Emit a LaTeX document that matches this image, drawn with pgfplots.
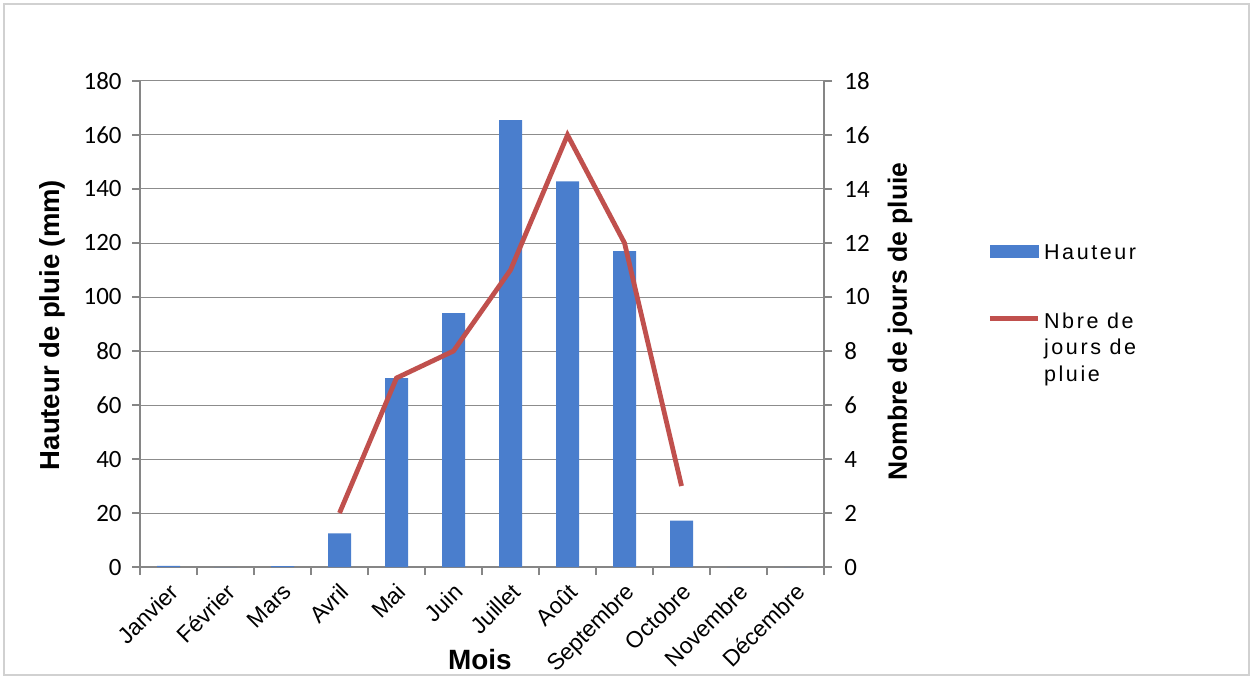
\documentclass[border=0pt]{standalone}
\usepackage{fontspec}
\setmainfont{Liberation Sans}
\newfontfamily\calibri{Carlito}
\usepackage{pgfplots}
\pgfplotsset{compat=1.18}
\definecolor{barblue}{RGB}{74,126,205}
\definecolor{linered}{RGB}{192,80,77}
\definecolor{axgray}{RGB}{134,134,134}
\definecolor{gridgray}{RGB}{140,140,140}

\pgfplotstableread{
x h
0 0.4
1 0
2 0.3
3 12.5
4 70
5 94
6 165.5
7 142.8
8 117
9 17.2
10 0
11 0
}\hauteur

\pgfplotstableread{
x n
3 2
4 7
5 8
6 11
7 16
8 12
9 3
}\jours

\begin{document}
\begin{tikzpicture}[x=1bp,y=1bp]
\useasboundingbox (0,0) rectangle (626.5,339.5);
\draw[black!18, line width=0.8bp] (2,2) rectangle (624.5,337.5);
\begin{axis}[
  at={(70bp,56bp)}, anchor=south west,
  width=342bp, height=243bp, scale only axis,
  xmin=-0.5, xmax=11.5, ymin=0, ymax=180,
  axis x line*=bottom, axis y line*=left,
  axis line style={draw=axgray, line width=0.6bp},
  ytick={0,20,...,180},
  ymajorgrids, grid style={draw=gridgray, line width=0.5bp},
  xtick={0,...,11},
  xticklabels={Janvier,Février,Mars,Avril,Mai,Juin,Juillet,Août,Septembre,Octobre,Novembre,Décembre},
  x tick label style={rotate=45, anchor=north east, font=\fontsize{11.5}{13}\selectfont, inner sep=0.5bp, xshift=-2bp, yshift=-1.5bp},
  major x tick style={draw=none},
  minor xtick={-0.5,0.5,...,11.5},
  tick align=outside,
  major tick length=4bp, minor tick length=4bp,
  tick style={draw=axgray, line width=0.6bp},
  /pgf/number format/assume math mode=true,
  y tick label style={font=\calibri\fontsize{12.5}{14}\selectfont, inner sep=1bp, xshift=-4bp},
  ylabel={Hauteur de pluie (mm)},
  ylabel style={font=\bfseries\fontsize{13.8}{15}\selectfont, at={(axis description cs:-0.1287,0.498)}, anchor=center},
  xlabel={Mois},
  xlabel style={font=\bfseries\fontsize{14}{16}\selectfont, at={(axis description cs:0.497,-0.191)}, anchor=center},
]
\addplot[ybar, bar width=11.5bp, fill=barblue, draw=none] table[x=x, y=h] {\hauteur};
\end{axis}
\begin{axis}[
  at={(70bp,56bp)}, anchor=south west,
  width=342bp, height=243bp, scale only axis,
  xmin=-0.5, xmax=11.5, ymin=0, ymax=18,
  axis x line=none, axis y line*=right,
  axis line style={draw=axgray, line width=0.6bp},
  ytick={0,2,...,18},
  tick align=outside, major tick length=4bp,
  tick style={draw=axgray, line width=0.6bp},
  /pgf/number format/assume math mode=true,
  y tick label style={font=\calibri\fontsize{12.5}{14}\selectfont, inner sep=1bp, xshift=5bp},
  ylabel={Nombre de jours de pluie},
  ylabel style={font=\bfseries\fontsize{13.3}{15}\selectfont, at={(axis description cs:1.111,0.505)}, anchor=center, rotate=0},
  legend style={at={(axis description cs:1.23,0.68)}, anchor=north west, draw=none, fill=none,
    font=\fontsize{10.8}{12.5}\selectfont\addfontfeature{LetterSpace=12}, row sep=20bp},
  legend cell align=left,
]
\addlegendimage{legend image code/.code={\fill[barblue] (0bp,0.36em-5.5bp) rectangle (24bp,0.36em+0.5bp);}}
\addlegendentry{Hauteur}
\addplot[linered, line width=2.4bp, no marks, legend image code/.code={\draw[linered, line width=2.2bp] (0bp,0.36em-2.5bp) -- (24bp,0.36em-2.5bp);}] table[x=x, y=n] {\jours};
\addlegendentry{\begin{tabular}[t]{@{}l@{}}Nbre de\\[0.8bp]jours de\\[0.8bp]pluie\end{tabular}}
\end{axis}
\end{tikzpicture}
\end{document}
